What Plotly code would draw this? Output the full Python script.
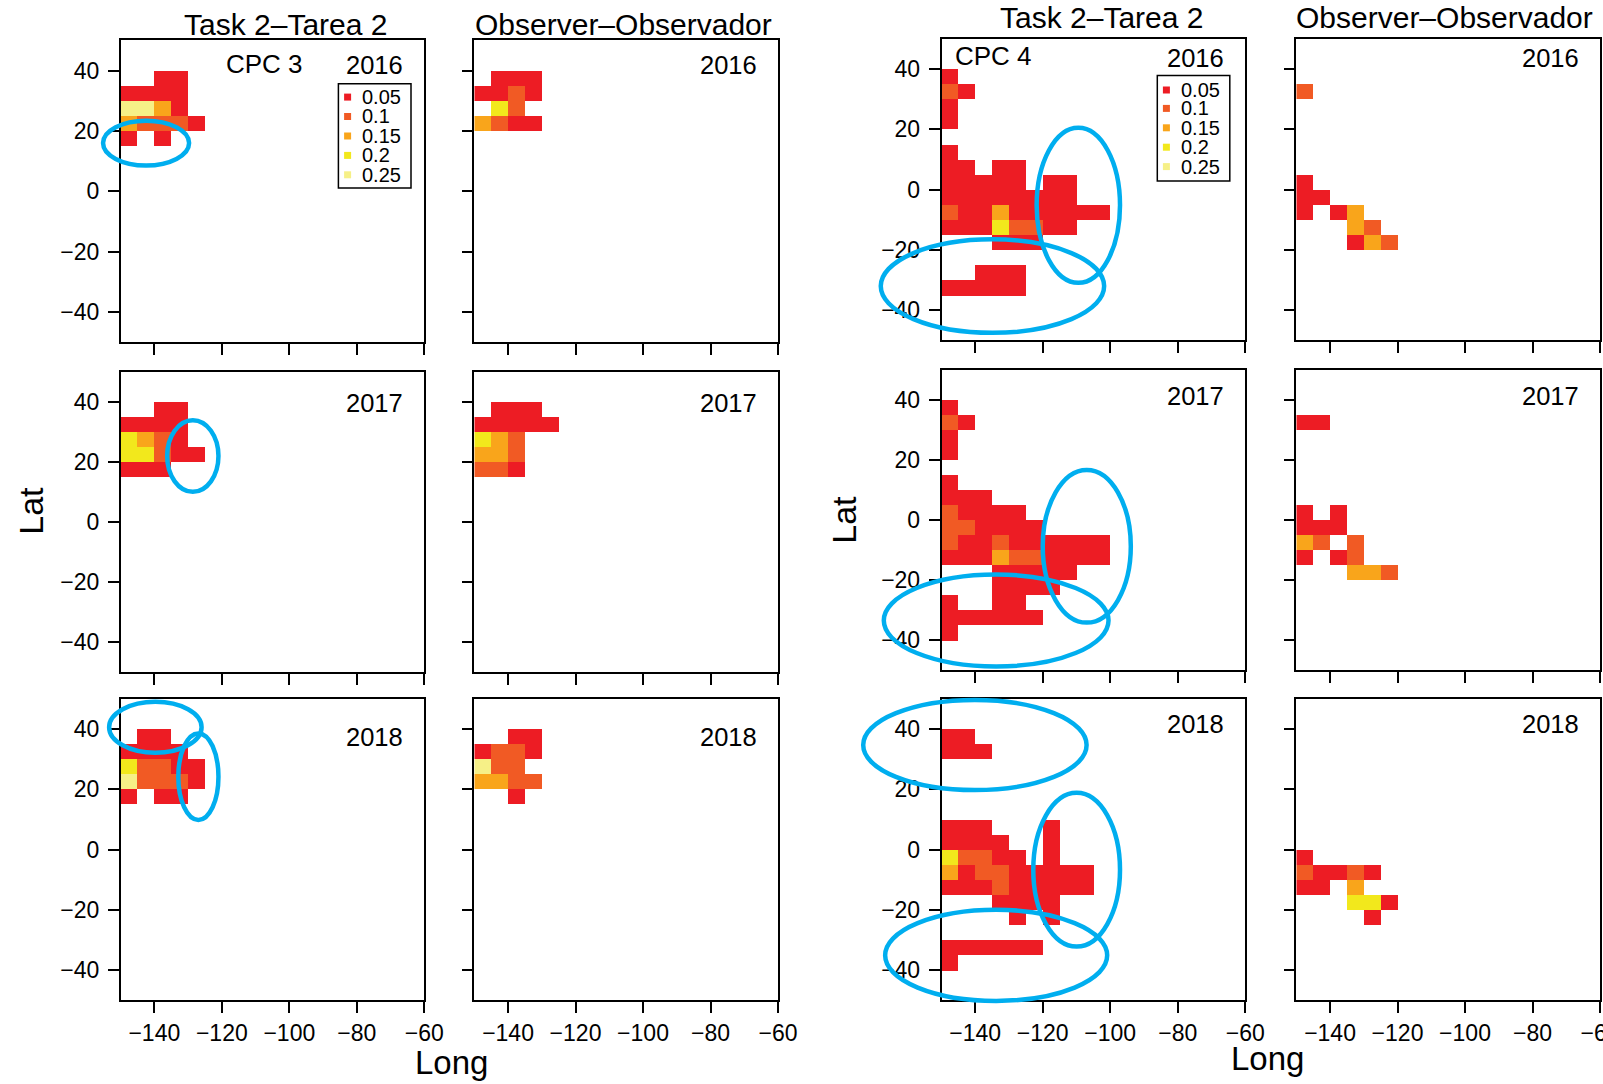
import plotly.graph_objects as go

W, H = 1603, 1084
FONT = "Liberation Sans, Arial, sans-serif"

# ---------------- data ----------------
LEVELS = [0.05, 0.1, 0.15, 0.2, 0.25]
LEVEL_LABELS = ["0.05", "0.1", "0.15", "0.2", "0.25"]
LEVEL_COLORS = ["#ED1C24", "#F15A24", "#F9A51B", "#F2E81C", "#F6F087"]
LON_START = -150   # left edge of first 5-degree column
CELL = 5
X_TICKS = [-140, -120, -100, -80, -60]
Y_TICKS = [-40, -20, 0, 20, 40]
YEARS = ["2016", "2017", "2018"]

# each dict: lat band lower edge -> values along longitude starting at -150 (0 = empty)
cpc3_task_2016 = {35: [0, 0, .05, .05], 30: [.05, .05, .05, .05], 25: [.25, .25, .15, .05],
                  20: [.15, .1, .1, .1, .05], 15: [.05, 0, .05]}
cpc3_obs_2016 = {35: [0, .05, .05, .05], 30: [.05, .05, .1, .05], 25: [0, .2, .1],
                 20: [.15, .1, .05, .05]}
cpc3_task_2017 = {35: [0, 0, .05, .05], 30: [.05, .05, .05, .05], 25: [.2, .15, .1, .05],
                  20: [.2, .2, .1, .05, .05], 15: [.05, .05, .05]}
cpc3_obs_2017 = {35: [0, .05, .05, .05], 30: [.05, .05, .05, .05, .05], 25: [.2, .15, .1],
                 20: [.15, .15, .1], 15: [.1, .1, .05]}
cpc3_task_2018 = {35: [0, .05, .05], 30: [.05, .05, .05, .05], 25: [.2, .1, .1, .05, .05],
                  20: [.25, .1, .1, .1, .05], 15: [.05, 0, .05, .05]}
cpc3_obs_2018 = {35: [0, 0, .05, .05], 30: [.05, .1, .1, .05], 25: [.25, .1, .1],
                 20: [.15, .15, .1, .1], 15: [0, 0, .05]}

cpc4_task_2016 = {35: [.05], 30: [.1, .05], 25: [.05], 20: [.05], 10: [.05],
                  5: [.05, .05, 0, .05, .05],
                  0: [.05, .05, .05, .05, .05, 0, .05, .05],
                  -5: [.05, .05, .05, .05, .05, .05, .05, .05],
                  -10: [.1, .05, .05, .15, .05, .05, .05, .05, .05, .05],
                  -15: [.05, .05, .05, .2, .1, .1, .05, .05],
                  -20: [0, 0, 0, .05, .05, .05],
                  -30: [0, 0, .05, .05, .05],
                  -35: [.05, .05, .05, .05, .05]}
cpc4_obs_2016 = {30: [.1], 0: [.05], -5: [.05, .05], -10: [.05, 0, .05, .15],
                 -15: [0, 0, 0, .15, .1], -20: [0, 0, 0, .05, .15, .1]}
cpc4_task_2017 = {35: [.05], 30: [.1, .05], 25: [.05], 20: [.05], 10: [.05],
                  5: [.05, .05, .05],
                  0: [.1, .05, .05, .05, .05],
                  -5: [.1, .1, .05, .05, .05, .05],
                  -10: [.1, .05, .05, .1, .05, .05, .05, .05, .05, .05],
                  -15: [.05, .05, .05, .15, .1, .1, .05, .05, .05, .05],
                  -20: [0, 0, 0, .05, .05, .05, .05, .05],
                  -25: [0, 0, 0, .05, .05, .05, .05],
                  -30: [.05, 0, 0, .05, .05],
                  -35: [.05, .05, .05, .05, .05, .05],
                  -40: [.05]}
cpc4_obs_2017 = {30: [.05, .05], 0: [.05, 0, .05], -5: [.05, .05, .05],
                 -10: [.15, .1, 0, .1], -15: [.05, 0, .05, .1], -20: [0, 0, 0, .15, .15, .1]}
cpc4_task_2018 = {35: [.05, .05], 30: [.05, .05, .05],
                  5: [.05, .05, .05, 0, 0, 0, .05],
                  0: [.05, .05, .05, .05, 0, 0, .05],
                  -5: [.2, .1, .1, .05, .05, 0, .05],
                  -10: [.15, .05, .1, .1, .05, .05, .05, .05, .05],
                  -15: [.05, .05, .05, .1, .05, .05, .05, .05, .05],
                  -20: [0, 0, 0, .05, .05, .05, .05],
                  -25: [0, 0, 0, 0, .05, 0, .05],
                  -35: [.05, .05, .05, .05, .05, .05],
                  -40: [.05]}
cpc4_obs_2018 = {-5: [.05], -10: [.1, .05, .05, .1, .05], -15: [.05, .05, 0, .15],
                 -20: [0, 0, 0, .2, .2, .05], -25: [0, 0, 0, 0, .05]}

# highlight ellipses: (group, row, lon0, lon1, lat0, lat1) in panel data units
ELLIPSES = [
    ("L", 0, -155.2, -129.7, 8.5, 23.4),
    ("L", 1, -136.2, -121.0, 10.0, 33.8),
    ("L", 2, -153.4, -126.0, 32.1, 49.0),
    ("L", 2, -132.9, -121.0, 9.8, 38.5),
    ("R", 0, -121.8, -97.1, -30.9, 20.5),
    ("R", 0, -168.0, -101.8, -47.5, -16.5),
    ("R", 1, -120.0, -93.9, -34.2, 16.6),
    ("R", 1, -167.1, -100.5, -48.8, -18.2),
    ("R", 2, -173.2, -107.0, 19.7, 49.6),
    ("R", 2, -122.8, -97.1, -32.2, 18.8),
    ("R", 2, -166.7, -100.9, -50.2, -20.0),
]

# ---------------- layout geometry (pixels) ----------------
COL_X = {("L", 0): (120.6, 424.3), ("L", 1): (474.3, 778.0),
         ("R", 0): (941.5, 1245.2), ("R", 1): (1296.3, 1600.0)}
ROW_Y = {"L": [(40.4, 342.0), (371.6, 672.2), (698.7, 1000.3)],
         "R": [(38.8, 340.4), (369.6, 670.1), (698.7, 1000.3)]}
YEAR_DY = {"L": [25, 31, 38], "R": [19, 26, 25]}

panels = [
    ("L", 0, 0, cpc3_task_2016), ("L", 1, 0, cpc3_obs_2016),
    ("L", 0, 1, cpc3_task_2017), ("L", 1, 1, cpc3_obs_2017),
    ("L", 0, 2, cpc3_task_2018), ("L", 1, 2, cpc3_obs_2018),
    ("R", 0, 0, cpc4_task_2016), ("R", 1, 0, cpc4_obs_2016),
    ("R", 0, 1, cpc4_task_2017), ("R", 1, 1, cpc4_obs_2017),
    ("R", 0, 2, cpc4_task_2018), ("R", 1, 2, cpc4_obs_2018),
]

XR = [-150, -60]
YR = [-50, 50]
lon_centers = [LON_START + CELL * (i + 0.5) for i in range(18)]
lat_centers = [YR[0] + CELL * (j + 0.5) for j in range(20)]


def grid(cells):
    z = [[None] * len(lon_centers) for _ in lat_centers]
    for lat_bottom, row in cells.items():
        j = int((lat_bottom - YR[0]) // CELL)
        for i, v in enumerate(row):
            if v:
                z[j][i] = LEVELS.index(v)
    return z


n = len(LEVELS)
colorscale = []
for i, c in enumerate(LEVEL_COLORS):
    colorscale.append([i / n, c])
    colorscale.append([(i + 1) / n, c])

fig = go.Figure()
layout = dict(width=W, height=H, autosize=False, margin=dict(l=0, r=0, t=0, b=0, pad=0),
              paper_bgcolor="white", plot_bgcolor="white", showlegend=False,
              font=dict(family=FONT, color="black"))


def px(x):
    return x / W


def py(y):
    return 1 - y / H


for k, (g, c, r, cells) in enumerate(panels, start=1):
    xs = "x" if k == 1 else f"x{k}"
    ys = "y" if k == 1 else f"y{k}"
    fig.add_trace(go.Heatmap(x=lon_centers, y=lat_centers, z=grid(cells),
                             colorscale=colorscale, zmin=-0.5, zmax=n - 0.5,
                             showscale=False, hoverinfo="skip", xaxis=xs, yaxis=ys))
    x0, x1 = COL_X[(g, c)]
    y0, y1 = ROW_Y[g][r]
    axcommon = dict(showline=True, mirror=True, linecolor="black", linewidth=1.5,
                    ticks="outside", ticklen=11, tickwidth=2, tickcolor="black",
                    showgrid=False, zeroline=False, fixedrange=True, automargin=False,
                    ticklabeloverflow="allow",
                    tickfont=dict(family=FONT, size=23, color="black"))
    layout["xaxis" if k == 1 else f"xaxis{k}"] = dict(
        axcommon, domain=[px(x0), px(x1)], range=XR, tickvals=X_TICKS,
        anchor=ys, showticklabels=(r == 2))
    layout["yaxis" if k == 1 else f"yaxis{k}"] = dict(
        axcommon, domain=[py(y1), py(y0)], range=YR, tickvals=Y_TICKS,
        anchor=xs, showticklabels=(c == 0), ticklabelstandoff=4)

fig.update_layout(**layout)

ann = []
shapes = []


def text(x, y, s, size, xanchor="center", angle=0):
    ann.append(dict(x=px(x), y=py(y), xref="paper", yref="paper", text=s,
                    showarrow=False, xanchor=xanchor, yanchor="middle", textangle=angle,
                    font=dict(family=FONT, size=size, color="black")))


# column titles
text(285.2, 24.5, "Task 2\u2013Tarea 2", 30)
text(623.6, 24.5, "Observer\u2013Observador", 30)
text(1101.0, 17.4, "Task 2\u2013Tarea 2", 30)
text(1444.5, 17.4, "Observer\u2013Observador", 30)

# axis titles
text(30.7, 511, "Lat", 34, angle=-90)
text(844.4, 519.3, "Lat", 34, angle=-90)
text(451.9, 1062.0, "Long", 33)
text(1267.7, 1058.0, "Long", 33)

# year labels (right part of every panel)
for g, c, r, _ in panels:
    x0, x1 = COL_X[(g, c)]
    y0, y1 = ROW_Y[g][r]
    text(x1 - 19, y0 + YEAR_DY[g][r], YEARS[r], 25.5, xanchor="right")

text(264.8, 64.4, "CPC 3", 26)
text(993.7, 56.2, "CPC 4", 26)

# legends
for (bx0, bx1, by0, by1, mx, tx, ys) in [
        (338.4, 411.0, 83.8, 188.1, 347.6, 360.0, [97.1, 116.5, 136.0, 155.4, 174.8]),
        (1157.3, 1229.8, 75.6, 181.0, 1166.4, 1179.0, [90.0, 108.4, 127.8, 147.2, 166.6])]:
    shapes.append(dict(type="rect", xref="paper", yref="paper", x0=px(bx0), x1=px(bx1),
                       y0=py(by1), y1=py(by0), line=dict(color="black", width=1.5),
                       fillcolor="white", layer="above"))
    for yy, lab, col in zip(ys, LEVEL_LABELS, LEVEL_COLORS):
        shapes.append(dict(type="rect", xref="paper", yref="paper",
                           x0=px(mx - 3.5), x1=px(mx + 3.5), y0=py(yy + 3.5), y1=py(yy - 3.5),
                           line=dict(width=0), fillcolor=col, layer="above"))
        text(tx, yy, lab, 20, xanchor="left")

# ellipses (converted from panel data units to paper)
for g, r, lo0, lo1, la0, la1 in ELLIPSES:
    x0, x1 = COL_X[(g, 0)]
    y0, y1 = ROW_Y[g][r]
    fx = lambda lon: x0 + (lon - XR[0]) / (XR[1] - XR[0]) * (x1 - x0)
    fy = lambda lat: y1 - (lat - YR[0]) / (YR[1] - YR[0]) * (y1 - y0)
    shapes.append(dict(type="circle", xref="paper", yref="paper",
                       x0=px(fx(lo0)), x1=px(fx(lo1)), y0=py(fy(la0)), y1=py(fy(la1)),
                       line=dict(color="#00AEEF", width=4.5), layer="above"))

fig.update_layout(annotations=ann, shapes=shapes)
fig.write_html("out.html", config={"responsive": False},
               post_script="document.documentElement.style.overflow='hidden';"
                           "document.body.style.margin='0';document.body.style.overflow='hidden';")
